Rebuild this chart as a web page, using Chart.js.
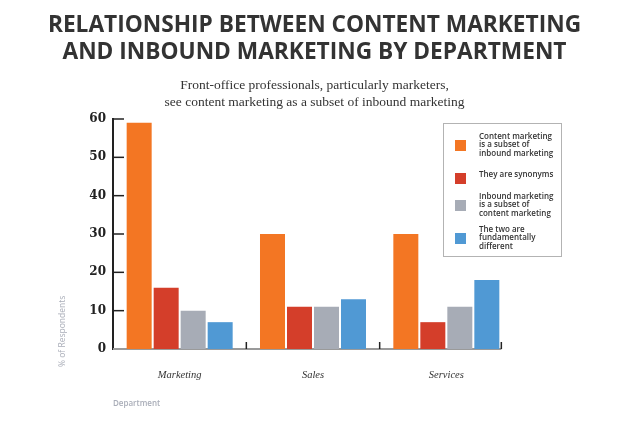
<!DOCTYPE html>
<html>
<head>
<meta charset="utf-8">
<script src="https://cdn.jsdelivr.net/npm/chart.js@4.4.1/dist/chart.umd.min.js"></script>
<style>
    html, body { margin: 0; padding: 0; background: #fff; }
    #wrap { position: relative; width: 633px; height: 423px; }
    #legend {
        position: absolute; left: 443px; top: 123px; width: 117px; height: 132px;
        border: 1px solid #b3b3b3; font-family: 'Open Sans', sans-serif; font-size: 8px;
        font-weight: 600; color: #333; line-height: 8.3px;
    }
    #legend .item { position: absolute; left: 0; width: 117px; }
    #legend .sw { position: absolute; left: 11px; width: 11px; height: 11px; }
    #legend .txt { position: absolute; left: 35px; white-space: nowrap; }
</style>
</head>
<body>
<div id="wrap">
    <canvas id="chart"></canvas>
    <div id="legend"></div>
</div>
<script>
// الفئات والقيم
const departments = ['Marketing', 'Sales', 'Services'];
const seriesLabels = [
    ['Content marketing', 'is a subset of', 'inbound marketing'],
    ['They are synonyms'],
    ['Inbound marketing', 'is a subset of', 'content marketing'],
    ['The two are', 'fundamentally', 'different']
];
const subsetOfInbound = [59, 30, 30];
const synonyms = [16, 11, 7];
const subsetOfContent = [10, 11, 11];
const different = [7, 13, 18];
const yTicks = [0, 10, 20, 30, 40, 50, 60];
const colors = ['#f37623', '#d43e2a', '#a7acb6', '#5099d4'];

const titleLines = ['RELATIONSHIP BETWEEN CONTENT MARKETING', 'AND INBOUND MARKETING BY DEPARTMENT'];
const subtitleLines = ['Front-office professionals, particularly marketers,', 'see content marketing as a subset of inbound marketing'];

const seriesValues = [subsetOfInbound, synonyms, subsetOfContent, different];

// العناوين
const headings = {
    id: 'headings',
    afterDraw(chart) {
        const {ctx, width} = chart;
        const cx = width / 2 - 2;
        ctx.save();
        ctx.textAlign = 'center';
        ctx.textBaseline = 'middle';
        ctx.fillStyle = '#333';
        ctx.font = 'bold 22.7px "Open Sans", sans-serif';
        ctx.fillText(titleLines[0], cx, 26);
        ctx.fillText(titleLines[1], cx, 53);
        ctx.fillStyle = '#333';
        ctx.font = '13.5px "Liberation Serif", serif';
        ctx.fillText(subtitleLines[0], cx, 85);
        ctx.fillText(subtitleLines[1], cx, 102);
        ctx.restore();
    }
};

// زخارف المحاور
const axisDecor = {
    id: 'axisDecor',
    beforeDatasetsDraw(chart) {
        const {ctx, chartArea} = chart;
        const meta = chart.getDatasetMeta(chart.data.datasets.length - 1);
        const last = meta.data[meta.data.length - 1];
        const right = last.x + last.width / 2 + 2;
        ctx.save();
        ctx.strokeStyle = '#9a9a9a';
        ctx.lineWidth = 2;
        ctx.beginPath();
        ctx.moveTo(chartArea.left, chartArea.bottom);
        ctx.lineTo(right, chartArea.bottom);
        ctx.stroke();
        ctx.restore();
    },
    afterDatasetsDraw(chart) {
        const {ctx, chartArea, scales} = chart;
        const x = scales.x, y = scales.y;
        ctx.save();
        ctx.strokeStyle = '#222';
        ctx.lineWidth = 1.5;
        // y ticks inward
        yTicks.forEach(v => {
            if (v === 0) return;
            const py = y.getPixelForValue(v);
            ctx.beginPath();
            ctx.moveTo(chartArea.left, py);
            ctx.lineTo(chartArea.left + 11, py);
            ctx.stroke();
        });
        // x ticks between categories
        const meta = chart.getDatasetMeta(chart.data.datasets.length - 1);
        const last = meta.data[meta.data.length - 1];
        const ends = [];
        for (let i = 1; i < departments.length; i++) {
            ends.push((x.getPixelForValue(i - 1) + x.getPixelForValue(i)) / 2);
        }
        ends.push(last.x + last.width / 2 + 2);
        ends.forEach(px => {
            ctx.beginPath();
            ctx.moveTo(px, chartArea.bottom);
            ctx.lineTo(px, chartArea.bottom - 7);
            ctx.stroke();
        });
        // axis titles
        ctx.fillStyle = '#a9adb8';
        ctx.font = '600 8px "Open Sans", sans-serif';
        ctx.textBaseline = 'middle';
        ctx.textAlign = 'left';
        ctx.fillText('Department', chartArea.left, 404);
        ctx.translate(63, 367);
        ctx.rotate(-Math.PI / 2);
        ctx.font = '8.5px "Open Sans", sans-serif';
        ctx.fillText('% of Respondents', 0, 0);
        ctx.restore();
    }
};

const ctx = document.getElementById('chart').getContext('2d');
const chart = new Chart(ctx, {
    type: 'bar',
    data: {
        labels: departments,
        datasets: seriesValues.map((vals, i) => ({
            label: seriesLabels[i].join(' '),
            data: vals,
            backgroundColor: colors[i],
            borderWidth: 0,
            categoryPercentage: 0.81,
            barPercentage: 0.926
        }))
    },
    options: {
        responsive: true,
        maintainAspectRatio: false,
        animation: false,
        layout: { padding: { left: 0, right: 120, top: 119, bottom: 0 } },
        plugins: {
            legend: { display: false },
            tooltip: { enabled: false },
            title: { display: false }
        },
        scales: {
            x: {
                grid: { display: false, drawTicks: false },
                border: { display: false },
                ticks: {
                    color: '#333',
                    font: { family: 'Liberation Serif', size: 10.5, style: 'italic' },
                    padding: 20
                },
                afterFit(scale) { scale.height = 74; }
            },
            y: {
                min: 0,
                max: 60,
                afterBuildTicks(scale) { scale.ticks = yTicks.map(v => ({value: v})); },
                grid: { display: false, drawTicks: false },
                border: { display: true, color: '#222', width: 2 },
                ticks: {
                    color: '#222',
                    font: { family: 'DejaVu Serif', size: 12, weight: 'bold' },
                    padding: 7
                },
                afterFit(scale) { scale.width = 113; }
            }
        }
    },
    plugins: [axisDecor, headings]
});

// وسيلة الإيضاح
const legendTops = [8, 46, 68, 101];
const swatchTops = [8, 3, 8, 8];
const legendEl = document.getElementById('legend');
seriesLabels.forEach((lines, i) => {
    const item = document.createElement('div');
    item.className = 'item';
    item.style.top = legendTops[i] + 'px';
    const sw = document.createElement('div');
    sw.className = 'sw';
    sw.style.background = colors[i];
    sw.style.top = swatchTops[i] + 'px';
    const txt = document.createElement('div');
    txt.className = 'txt';
    txt.innerHTML = lines.join('<br>');
    item.appendChild(sw);
    item.appendChild(txt);
    legendEl.appendChild(item);
});
</script>
</body>
</html>
